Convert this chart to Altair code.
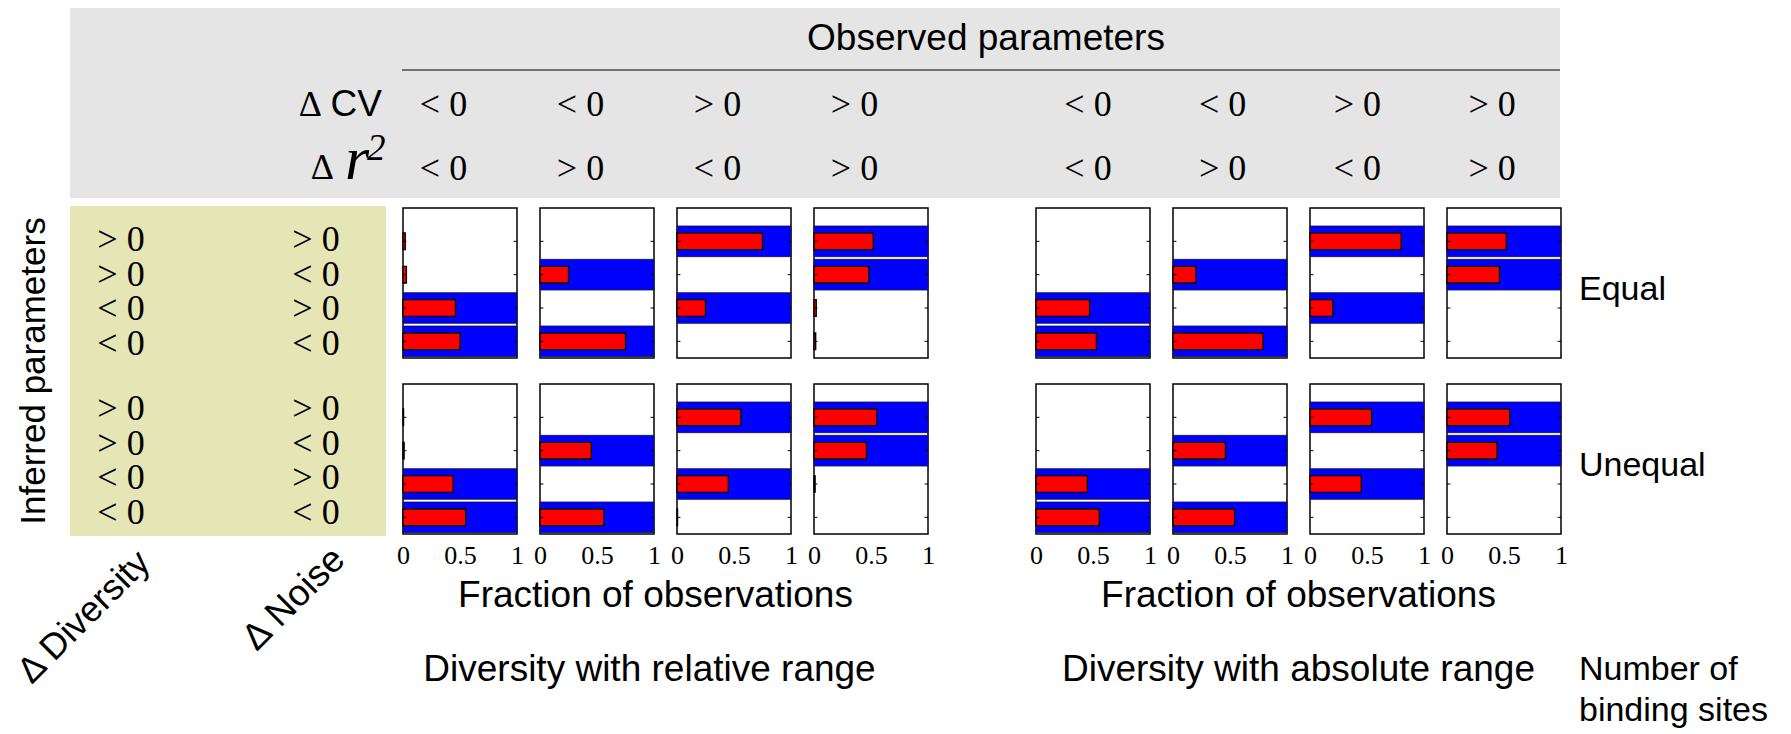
import altair as alt
import pandas as pd

# ---------------- data ----------------
diversity_signs = ["> 0", "> 0", "< 0", "< 0"]
noise_signs = ["> 0", "< 0", "> 0", "< 0"]
cv_signs = ["< 0", "< 0", "> 0", "> 0"]
r2_signs = ["< 0", "> 0", "< 0", "> 0"]
# inferred categories consistent with the observed signs (blue bands)
expected_pattern = [
    [0, 0, 1, 1],
    [0, 1, 0, 1],
    [1, 0, 1, 0],
    [1, 1, 0, 0],
]
# fraction of observations (red bars): one list per column, categories top -> bottom
relative_equal = [
    [0.02, 0.03, 0.46, 0.50],
    [0.0, 0.25, 0.0, 0.75],
    [0.75, 0.0, 0.25, 0.0],
    [0.52, 0.48, 0.02, 0.015],
]
relative_unequal = [
    [0.005, 0.01, 0.44, 0.55],
    [0.0, 0.45, 0.0, 0.56],
    [0.56, 0.0, 0.45, 0.005],
    [0.55, 0.46, 0.01, 0.0],
]
absolute_equal = [
    [0.0, 0.0, 0.47, 0.53],
    [0.0, 0.20, 0.0, 0.79],
    [0.80, 0.0, 0.20, 0.0],
    [0.52, 0.46, 0.0, 0.0],
]
absolute_unequal = [
    [0.0, 0.0, 0.45, 0.555],
    [0.0, 0.46, 0.0, 0.54],
    [0.54, 0.0, 0.45, 0.0],
    [0.55, 0.44, 0.0, 0.0],
]
tick_values = [0, 0.5, 1]
group_titles = ["Diversity with relative range", "Diversity with absolute range"]
axis_title = "Fraction of observations"
row_titles = ["Equal", "Unequal"]

# ---------------- layout / style ----------------
SANS = "Liberation Sans"
SERIF = "Liberation Serif"
FS = 37
FS_SIDE = 34
FS_SIGN = 36
FS_TICK = 26
GREY = "#e5e5e5"
YELLOW = "#e5e5b5"

PW, PH, GAP, ROWGAP, GROUPGAP = 114, 150, 23, 26, 108
GW = 4 * PW + 3 * GAP
LEFT_W, YEL_W, PRE_GAP, RIGHT_GAP, RIGHT_W = 62, 316, 17, 18, 200
HDR_H, TOPGAP, FOOT_H = 190, 10, 184
HDR_W = 1490

COL_W = ([LEFT_W, YEL_W, PRE_GAP] + [PW, GAP, PW, GAP, PW, GAP, PW] + [GROUPGAP]
         + [PW, GAP, PW, GAP, PW, GAP, PW] + [RIGHT_GAP, RIGHT_W])
ROW_H = [HDR_H, TOPGAP, PH, ROWGAP, PH, FOOT_H]
PANEL_COLS = {3: 0, 5: 1, 7: 2, 9: 3, 11: 4, 13: 5, 15: 6, 17: 7}
PANEL_START = LEFT_W + YEL_W + PRE_GAP

one = pd.DataFrame({"k": [0]})


def ident(n):
    return alt.Scale(domain=[0, n], range=[0, n], nice=False, zero=False)


def spacer(w, h):
    return (
        alt.Chart(one)
        .mark_rect(opacity=0)
        .encode(x=alt.value(0), x2=alt.value(1), y=alt.value(0), y2=alt.value(1))
        .properties(width=w, height=h)
    )


def txt(text, x, y, font=SANS, size=FS, align="center", baseline="middle",
        angle=0, style="normal"):
    kw = dict(text=text, font=font, fontSize=size, align=align,
              baseline=baseline, color="black", fontStyle=style)
    if angle:
        kw["angle"] = angle
    return alt.Chart(one).mark_text(**kw).encode(x=alt.value(x), y=alt.value(y))


def panel(values, col, show_axis):
    df = pd.DataFrame({
        "cat": [0, 1, 2, 3],
        "diversity": diversity_signs,
        "noise": noise_signs,
        "expected": expected_pattern[col],
        "fraction": values[col],
    })
    if show_axis:
        xaxis = alt.Axis(values=tick_values, format="~g", title=None, grid=False,
                         ticks=False, domain=False, labelFont=SERIF,
                         labelFontSize=FS_TICK, labelColor="black",
                         labelFlush=False, labelOverlap=False, labelPadding=8)
    else:
        xaxis = None
    xs = alt.Scale(domain=[0, 1], nice=False, zero=False)
    ys = alt.Scale(domain=[-0.5, 4], nice=False, zero=False)
    base = alt.Chart(df).transform_calculate(pos="3 - datum.cat")

    blue = (
        base.transform_filter("datum.expected == 1")
        .transform_calculate(lo="datum.pos - 0.46", hi="datum.pos + 0.46", x0="0", x1="1")
        .mark_rect(fill="#0000ff", stroke="#1a1a1a", strokeWidth=0.8)
        .encode(x=alt.X("x0:Q", scale=xs, axis=xaxis), x2=alt.X2("x1"),
                y=alt.Y("lo:Q", scale=ys, axis=None), y2=alt.Y2("hi"))
    )
    red = (
        base.transform_filter("datum.fraction > 0")
        .transform_calculate(lo="datum.pos - 0.25", hi="datum.pos + 0.25", x0="0")
        .mark_rect(fill="#ff0000", stroke="black", strokeWidth=1.3)
        .encode(x=alt.X("x0:Q", scale=xs, axis=xaxis), x2=alt.X2("fraction"),
                y=alt.Y("lo:Q", scale=ys, axis=None), y2=alt.Y2("hi"))
    )
    tick_l = (
        base.transform_calculate(a="0", b="0.03")
        .mark_rule(color="black", strokeWidth=1)
        .encode(x=alt.X("a:Q", scale=xs, axis=xaxis), x2=alt.X2("b"),
                y=alt.Y("pos:Q", scale=ys, axis=None))
    )
    tick_r = (
        base.transform_calculate(a="0.97", b="1")
        .mark_rule(color="black", strokeWidth=1)
        .encode(x=alt.X("a:Q", scale=xs, axis=xaxis), x2=alt.X2("b"),
                y=alt.Y("pos:Q", scale=ys, axis=None))
    )
    return alt.layer(blue, red, tick_l, tick_r).properties(
        width=PW, height=PH,
        view=alt.ViewBackground(stroke="black", strokeWidth=1.5),
    )


# ---------------- header (grey box, spans to the right) ----------------
hdr_df = pd.DataFrame({"col": list(range(8)), "cv": cv_signs * 2, "r2": r2_signs * 2})
col_center = (
    f"{YEL_W + PRE_GAP + PW / 2} + (datum.col % 4) * ({PW + GAP} - 2.3 * floor(datum.col / 4))"
    f" + floor(datum.col / 4) * {GW + GROUPGAP} - 16.5 + 11.5 * floor(datum.col / 4)"
)
hdr_base = alt.Chart(hdr_df).transform_calculate(px=col_center)
cv_labels = hdr_base.mark_text(font=SERIF, fontSize=FS_SIGN, color="black").encode(
    x=alt.X("px:Q", scale=ident(HDR_W), axis=None), y=alt.value(97), text="cv:N")
r2_labels = hdr_base.mark_text(font=SERIF, fontSize=FS_SIGN, color="black").encode(
    x=alt.X("px:Q", scale=ident(HDR_W), axis=None), y=alt.value(161), text="r2:N")
hdr_box = alt.Chart(one).mark_rect(fill=GREY).encode(
    x=alt.value(0), x2=alt.value(HDR_W), y=alt.value(0), y2=alt.value(HDR_H))
hdr_line = alt.Chart(one).mark_rule(color="black", strokeWidth=1.2).encode(
    x=alt.value(YEL_W + PRE_GAP - 1), x2=alt.value(HDR_W), y=alt.value(62))

header = alt.layer(
    hdr_box,
    txt("Observed parameters", 916, 31),
    hdr_line,
    txt("Δ", 252, 97, font=SERIF, size=FS_SIGN, align="right"),
    txt("CV", 312, 97, align="right"),
    txt("Δ", 264, 171, font=SERIF, size=FS_SIGN, align="right", baseline="alphabetic"),
    txt("r", 275, 171, font=SERIF, size=62, align="left", baseline="alphabetic", style="italic"),
    txt("2", 297, 141, font=SERIF, size=37, align="left", style="italic"),
    cv_labels,
    r2_labels,
).properties(width=YEL_W, height=HDR_H)

# ---------------- left block ----------------
inferred = txt("Inferred parameters", 26, 163, size=35, angle=270).properties(
    width=LEFT_W, height=PH)

yel_rows = []
for r in range(2):
    for c in range(4):
        yel_rows.append({"row": r, "cat": c, "div": diversity_signs[c], "noise": noise_signs[c]})
yel_df = pd.DataFrame(yel_rows)
yel_base = alt.Chart(yel_df).transform_calculate(py="32 + datum.row * 169 + datum.cat * 34.7")
yel_div = yel_base.mark_text(font=SERIF, fontSize=FS_SIGN, color="black").encode(
    x=alt.value(51), y=alt.Y("py:Q", scale=ident(400), axis=None), text="div:N")
yel_noise = yel_base.mark_text(font=SERIF, fontSize=FS_SIGN, color="black").encode(
    x=alt.value(246), y=alt.Y("py:Q", scale=ident(400), axis=None), text="noise:N")
yel_box = alt.Chart(one).mark_rect(fill=YELLOW).encode(
    x=alt.value(0), x2=alt.value(YEL_W), y=alt.value(-2), y2=alt.value(328))
yellow = alt.layer(yel_box, yel_div, yel_noise).properties(width=YEL_W, height=PH)


def side_label(i):
    return (
        alt.Chart(pd.DataFrame({"name": [row_titles[i]]}))
        .mark_text(font=SANS, fontSize=FS_SIDE, align="left", color="black")
        .encode(x=alt.value(0), y=alt.value(82), text="name:N")
        .properties(width=RIGHT_W, height=PH)
    )


# ---------------- footer ----------------
foot_df = pd.DataFrame({"g": [0, 1], "title": group_titles, "axis": [axis_title, axis_title]})
foot_base = alt.Chart(foot_df).transform_calculate(
    pa=f"{PANEL_START} + datum.g * {GW + GROUPGAP} + {GW / 2} - 10 + 10 * datum.g",
    pt=f"{PANEL_START} + datum.g * {GW + GROUPGAP} + {GW / 2} - 16 + 16 * datum.g",
)
foot_axis = foot_base.mark_text(font=SANS, fontSize=FS, color="black").encode(
    x=alt.X("pa:Q", scale=ident(1800), axis=None), y=alt.value(62), text="axis:N")
foot_title = foot_base.mark_text(font=SANS, fontSize=FS, color="black").encode(
    x=alt.X("pt:Q", scale=ident(1800), axis=None), y=alt.value(136), text="title:N")
nx = PANEL_START + 2 * GW + GROUPGAP + RIGHT_GAP
footer = alt.layer(
    foot_axis, foot_title,
    txt("Number of", nx, 136, size=FS_SIDE, align="left"),
    txt("binding sites", nx, 177, size=FS_SIDE, align="left"),
    txt("Δ Diversity", 76, 83, size=36, angle=315),
    txt("Δ Noise", 286, 65, angle=315),
).properties(width=LEFT_W, height=FOOT_H)

# ---------------- grid ----------------
value_sets = [[relative_equal, relative_unequal], [absolute_equal, absolute_unequal]]
cells = []
for r, h in enumerate(ROW_H):
    for c, w in enumerate(COL_W):
        if r == 0 and c == 1:
            cells.append(header)
        elif r == 2 and c == 0:
            cells.append(inferred)
        elif r == 2 and c == 1:
            cells.append(yellow)
        elif r in (2, 4) and c in PANEL_COLS:
            p = PANEL_COLS[c]
            vals = value_sets[p // 4][0 if r == 2 else 1]
            cells.append(panel(vals, p % 4, r == 4))
        elif r == 2 and c == len(COL_W) - 1:
            cells.append(side_label(0))
        elif r == 4 and c == len(COL_W) - 1:
            cells.append(side_label(1))
        elif r == 5 and c == 0:
            cells.append(footer)
        else:
            cells.append(spacer(w, h))

chart = (
    alt.concat(*cells, columns=len(COL_W), spacing=0, bounds="flush", align="each")
    .configure_view(strokeWidth=0)
    .properties(padding=0, background="white")
)

chart.save("out.html", embed_options={"renderer": "svg", "actions": False})
